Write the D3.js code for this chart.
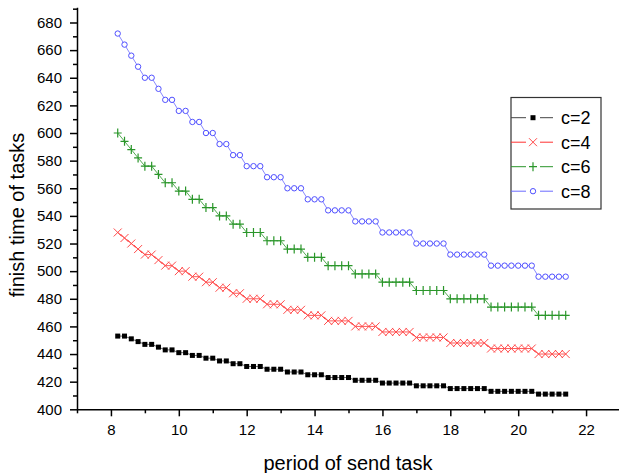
<!DOCTYPE html>
<html>
<head>
<meta charset="utf-8">
<script src="https://cdn.jsdelivr.net/npm/d3@7"></script>
<style>
  body { margin: 0; background: #fff; }
  svg { display: block; font-family: "Liberation Sans", Arial, sans-serif; }
</style>
</head>
<body>
<svg></svg>
<script>
// Data
const period = [8.2, 8.4, 8.6, 8.8, 9.0, 9.2, 9.4, 9.6, 9.8, 10.0, 10.2, 10.4, 10.6, 10.8, 11.0, 11.2, 11.4, 11.6, 11.8,
  12.0, 12.2, 12.4, 12.6, 12.8, 13.0, 13.2, 13.4, 13.6, 13.8, 14.0, 14.2, 14.4, 14.6, 14.8, 15.0, 15.2, 15.4, 15.6, 15.8,
  16.0, 16.2, 16.4, 16.6, 16.8, 17.0, 17.2, 17.4, 17.6, 17.8, 18.0, 18.2, 18.4, 18.6, 18.8, 19.0, 19.2, 19.4, 19.6, 19.8,
  20.0, 20.2, 20.4, 20.6, 20.8, 21.0, 21.2, 21.4];

const c2 = [453, 453, 451, 449, 447, 447, 445, 443, 443, 441, 441, 439, 439, 437, 437, 435, 435, 433, 433,
  431, 431, 431, 429, 429, 429, 427, 427, 427, 425, 425, 425, 423, 423, 423, 423, 421, 421, 421, 421,
  419, 419, 419, 419, 419, 417, 417, 417, 417, 417, 415, 415, 415, 415, 415, 415, 413, 413, 413, 413,
  413, 413, 413, 411, 411, 411, 411, 411];

const c4 = [528, 524, 520, 516, 512, 512, 508, 504, 504, 500, 500, 496, 496, 492, 492, 488, 488, 484, 484,
  480, 480, 480, 476, 476, 476, 472, 472, 472, 468, 468, 468, 464, 464, 464, 464, 460, 460, 460, 460,
  456, 456, 456, 456, 456, 452, 452, 452, 452, 452, 448, 448, 448, 448, 448, 448, 444, 444, 444, 444,
  444, 444, 444, 440, 440, 440, 440, 440];

const c6 = [600, 594, 588, 582, 576, 576, 570, 564, 564, 558, 558, 552, 552, 546, 546, 540, 540, 534, 534,
  528, 528, 528, 522, 522, 522, 516, 516, 516, 510, 510, 510, 504, 504, 504, 504, 498, 498, 498, 498,
  492, 492, 492, 492, 492, 486, 486, 486, 486, 486, 480, 480, 480, 480, 480, 480, 474, 474, 474, 474,
  474, 474, 474, 468, 468, 468, 468, 468];

const c8 = [672, 664, 656, 648, 640, 640, 632, 624, 624, 616, 616, 608, 608, 600, 600, 592, 592, 584, 584,
  576, 576, 576, 568, 568, 568, 560, 560, 560, 552, 552, 552, 544, 544, 544, 544, 536, 536, 536, 536,
  528, 528, 528, 528, 528, 520, 520, 520, 520, 520, 512, 512, 512, 512, 512, 512, 504, 504, 504, 504,
  504, 504, 504, 496, 496, 496, 496, 496];

const seriesNames = ["c=2", "c=4", "c=6", "c=8"];
const xTicks = [8, 10, 12, 14, 16, 18, 20, 22];
const yTicks = [400, 420, 440, 460, 480, 500, 520, 540, 560, 580, 600, 620, 640, 660, 680];

const width = 619, height = 473;

// series styles
const styles = {
  "c=2": { values: c2, color: "#000000", line: "#444444", marker: "square" },
  "c=4": { values: c4, color: "#ff4a4a", line: "#ff3030", marker: "cross" },
  "c=6": { values: c6, color: "#2a962a", line: "#2a962a", marker: "plus" },
  "c=8": { values: c8, color: "#5050ff", line: "#6a6aff", marker: "circle" }
};

const svg = d3.select("svg")
    .attr("width", width)
    .attr("height", height);

// Scales
const x = d3.scaleLinear().domain([7, 23]).range([77, 620]);
const y = d3.scaleLinear().domain([400, 691]).range([409.3, 7.3]);

// Draw one marker inside a group centred at 0,0
function drawMarker(g, type, color) {
  if (type === "square") {
    g.append("rect").attr("x", -2.5).attr("y", -2.5).attr("width", 5).attr("height", 5).attr("fill", color);
  } else if (type === "cross") {
    g.append("path").attr("d", "M-4,-4L4,4M-4,4L4,-4").attr("stroke", color).attr("stroke-width", 1).attr("fill", "none");
  } else if (type === "plus") {
    g.append("path").attr("d", "M-4,0L4,0M0,-4.5L0,4.5").attr("stroke", color).attr("stroke-width", 1.2).attr("fill", "none");
  } else {
    g.append("circle").attr("r", 2.7).attr("stroke", color).attr("stroke-width", 1).attr("fill", "#fff");
  }
}

// Y axis: minor ticks then labelled ticks
svg.append("g")
    .attr("transform", `translate(${x(7)},0)`)
    .call(d3.axisLeft(y).tickValues(d3.range(410, 691, 20)).tickSize(4).tickSizeOuter(0).tickFormat(""))
    .call(g => g.select(".domain").remove())
    .selectAll("line").attr("stroke-width", 1.5);

const yAxis = svg.append("g")
    .attr("transform", `translate(${x(7)},0)`)
    .call(d3.axisLeft(y).tickValues(yTicks).tickSize(7).tickPadding(8).tickSizeOuter(0));
yAxis.select(".domain").attr("stroke-width", 1.5);
yAxis.selectAll("line").attr("stroke-width", 1.5);
yAxis.selectAll("text").style("font-size", "15px").style("font-family", "Liberation Sans, Arial, sans-serif");

// X axis: minor ticks then labelled ticks
svg.append("g")
    .attr("transform", `translate(0,${y(400)})`)
    .call(d3.axisBottom(x).tickValues([7, 9, 11, 13, 15, 17, 19, 21, 23]).tickSize(4).tickSizeOuter(0).tickFormat(""))
    .call(g => g.select(".domain").remove())
    .selectAll("line").attr("stroke-width", 1.5);

const xAxis = svg.append("g")
    .attr("transform", `translate(0,${y(400)})`)
    .call(d3.axisBottom(x).tickValues(xTicks).tickSize(7).tickPadding(8).tickSizeOuter(0));
xAxis.select(".domain").attr("stroke-width", 1.5);
xAxis.selectAll("line").attr("stroke-width", 1.5);
xAxis.selectAll("text").style("font-size", "15px").style("font-family", "Liberation Sans, Arial, sans-serif");

// Axis titles
svg.append("text")
    .attr("x", 348)
    .attr("y", 470)
    .attr("text-anchor", "middle")
    .style("font-size", "20px")
    .text("period of send task");

svg.append("text")
    .attr("transform", "rotate(-90)")
    .attr("x", -215)
    .attr("y", 24)
    .attr("text-anchor", "middle")
    .style("font-size", "20px")
    .text("finish time of tasks");

// Lines and markers for each series
const line = d3.line().x((d, i) => x(period[i])).y(d => y(d));

seriesNames.forEach(name => {
  const s = styles[name];
  svg.append("path")
      .datum(s.values)
      .attr("fill", "none")
      .attr("stroke", s.line)
      .attr("stroke-width", 0.8)
      .attr("d", line);

  svg.append("g")
    .selectAll("g")
    .data(s.values)
    .join("g")
      .attr("transform", (d, i) => `translate(${x(period[i])},${y(d)})`)
      .each(function() { drawMarker(d3.select(this), s.marker, s.color); });
});

// Legend
const legend = svg.append("g");
legend.append("rect")
    .attr("x", 511).attr("y", 97.5)
    .attr("width", 90).attr("height", 111.5)
    .attr("fill", "#fff")
    .attr("stroke", "#333")
    .attr("stroke-width", 1.2);

const rows = legend.selectAll("g.row")
    .data(seriesNames)
    .join("g")
    .attr("class", "row")
    .attr("transform", (d, i) => `translate(0,${117.7 + i * 24.5})`);

rows.append("line").attr("x1", 511).attr("x2", 526).attr("stroke", d => styles[d].line).attr("stroke-width", 1);
rows.append("line").attr("x1", 540).attr("x2", 553).attr("stroke", d => styles[d].line).attr("stroke-width", 1);
rows.append("g")
    .attr("transform", "translate(533,0)")
    .each(function(d) { drawMarker(d3.select(this), styles[d].marker, styles[d].color); });
rows.append("text")
    .attr("x", 561)
    .attr("dy", "0.36em")
    .style("font-size", "18px")
    .text(d => d);
</script>
</body>
</html>
